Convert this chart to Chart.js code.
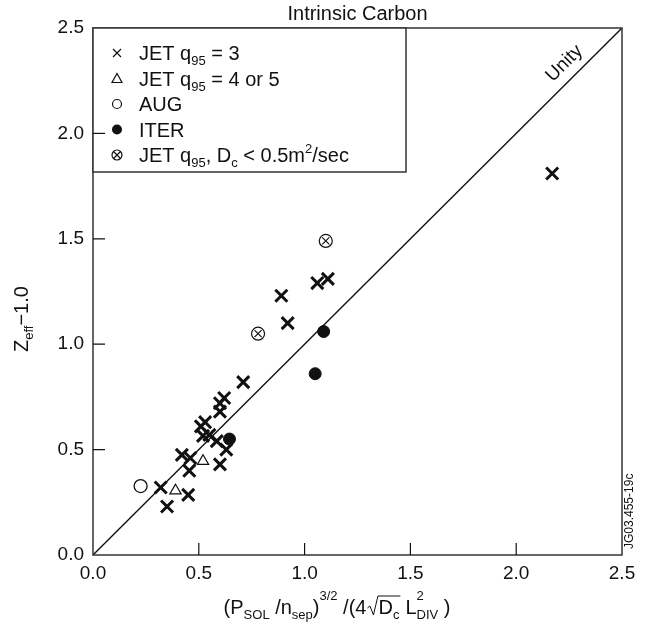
<!DOCTYPE html>
<html>
<head>
<meta charset="utf-8">
<script src="https://cdn.jsdelivr.net/npm/chart.js@4.4.0/dist/chart.umd.min.js"></script>
<style>
  html, body { margin: 0; padding: 0; background: #fff; }
  #wrap { width: 649px; height: 625px; }
</style>
</head>
<body>
<div id="wrap"><canvas id="chart" width="649" height="625"></canvas></div>
<script>
// values, [x, y]
const jetQ3 = [
  [2.17, 1.81], [0.89, 1.23], [0.92, 1.10], [1.06, 1.29], [1.11, 1.31],
  [0.71, 0.82], [0.62, 0.745], [0.60, 0.72], [0.60, 0.68], [0.51, 0.61],
  [0.53, 0.63], [0.52, 0.565], [0.55, 0.57], [0.585, 0.54], [0.63, 0.50],
  [0.60, 0.43], [0.42, 0.475], [0.46, 0.46], [0.455, 0.40], [0.32, 0.32],
  [0.45, 0.285], [0.35, 0.23]
];
const jetQ45 = [[0.52, 0.445], [0.39, 0.305]];
const aug = [[0.225, 0.327]];
const iter = [[1.09, 1.06], [1.05, 0.86], [0.645, 0.55]];
const jetLowDc = [[1.10, 1.49], [0.78, 1.05]];
const unity = [[0, 0], [2.5, 2.5]];
const axisTicks = [0.0, 0.5, 1.0, 1.5, 2.0, 2.5];

const FONT = '"Liberation Sans", Arial, Helvetica, sans-serif';
const INK = "#111";

const pts = arr => arr.map(p => ({ x: p[0], y: p[1] }));

function put(ctx, st, t, size, dy) {
  ctx.font = size + "px " + FONT;
  if (st.draw) ctx.fillText(t, st.x, st.y + dy);
  st.x += ctx.measureText(t).width;
}

function drawXTitle(ctx, draw, x0, y) {
  const st = { x: x0, y: y, draw: draw };
  put(ctx, st, "(P", 20, 0);
  put(ctx, st, "SOL", 13, 5);
  put(ctx, st, " /n", 20, 0);
  put(ctx, st, "sep", 13, 5);
  put(ctx, st, ")", 20, 0);
  put(ctx, st, "3/2", 13, -14);
  put(ctx, st, " /(4", 20, 0);
  const sx = st.x + 1;
  st.x += 12;
  put(ctx, st, "D", 20, 0);
  put(ctx, st, "c", 13, 5);
  if (draw) {
    ctx.beginPath();
    ctx.moveTo(sx, y - 6);
    ctx.lineTo(sx + 2.5, y - 8);
    ctx.lineTo(sx + 6, y + 1);
    ctx.lineTo(sx + 10.5, y - 18);
    ctx.lineTo(st.x + 1, y - 18);
    ctx.lineWidth = 1;
    ctx.stroke();
  }
  st.x += 6;
  put(ctx, st, "L", 20, 0);
  const lx = st.x;
  put(ctx, st, "2", 13, -14);
  st.x = lx;
  put(ctx, st, "DIV", 13, 5);
  put(ctx, st, " )", 20, 0);
  return st.x - x0;
}

const legendRows = [
  { mark: "x", parts: [["JET q", 20, 0], ["95", 13, 5], [" = 3", 20, 0]] },
  { mark: "tri", parts: [["JET q", 20, 0], ["95", 13, 5], [" = 4 or 5", 20, 0]] },
  { mark: "circ", parts: [["AUG", 20, 0]] },
  { mark: "dot", parts: [["ITER", 20, 0]] },
  { mark: "ox", parts: [["JET q", 20, 0], ["95", 13, 5], [", D", 20, 0], ["c", 13, 5],
                        [" < 0.5m", 20, 0], ["2", 13, -9], ["/sec", 20, 0]] }
];

function legendMark(ctx, kind, x, y) {
  ctx.lineWidth = 1.2;
  ctx.beginPath();
  if (kind === "x") {
    ctx.moveTo(x - 4, y - 4); ctx.lineTo(x + 4, y + 4);
    ctx.moveTo(x + 4, y - 4); ctx.lineTo(x - 4, y + 4);
    ctx.stroke();
  } else if (kind === "tri") {
    ctx.moveTo(x, y - 5); ctx.lineTo(x + 5, y + 4); ctx.lineTo(x - 5, y + 4); ctx.closePath();
    ctx.stroke();
  } else if (kind === "circ") {
    ctx.arc(x, y, 4.5, 0, Math.PI * 2); ctx.stroke();
  } else if (kind === "dot") {
    ctx.arc(x, y, 5, 0, Math.PI * 2); ctx.fill();
  } else {
    ctx.arc(x, y, 5, 0, Math.PI * 2);
    ctx.moveTo(x - 3, y - 3); ctx.lineTo(x + 3, y + 3);
    ctx.moveTo(x + 3, y - 3); ctx.lineTo(x - 3, y + 3);
    ctx.stroke();
  }
}

const decorations = {
  id: "decorations",
  afterDraw(chart) {
    const ctx = chart.ctx;
    const a = chart.chartArea;
    const xs = chart.scales.x, ys = chart.scales.y;
    ctx.save();
    ctx.fillStyle = INK;
    ctx.strokeStyle = INK;

    // frame
    ctx.lineWidth = 1.5;
    ctx.strokeStyle = "#333";
    ctx.strokeRect(a.left, a.top, a.right - a.left, a.bottom - a.top);
    ctx.strokeStyle = INK;

    // inward ticks
    ctx.lineWidth = 1.2;
    ctx.beginPath();
    axisTicks.slice(1, -1).forEach(v => {
      const px = xs.getPixelForValue(v);
      ctx.moveTo(px, a.bottom); ctx.lineTo(px, a.bottom - 12);
      const py = ys.getPixelForValue(v);
      ctx.moveTo(a.left, py); ctx.lineTo(a.left + 12, py);
    });
    ctx.stroke();

    // legend box
    ctx.fillStyle = "#fff";
    ctx.fillRect(a.left, a.top, 313, 144);
    ctx.fillStyle = INK;
    ctx.lineWidth = 1.5;
    ctx.strokeStyle = "#333";
    ctx.strokeRect(a.left, a.top, 313, 144);
    ctx.strokeStyle = INK;
    ctx.lineWidth = 1.2;
    ctx.beginPath();
    ctx.moveTo(a.left, ys.getPixelForValue(2.0)); ctx.lineTo(a.left + 12, ys.getPixelForValue(2.0));
    ctx.stroke();
    ctx.textAlign = "left";
    ctx.textBaseline = "alphabetic";
    legendRows.forEach((row, i) => {
      const cy = a.top + 25 + i * 25.5;
      legendMark(ctx, row.mark, 117, cy);
      const st = { x: 139, y: cy + 7, draw: true };
      row.parts.forEach(p => put(ctx, st, p[0], p[1], p[2]));
    });

    // title
    ctx.textAlign = "center";
    ctx.font = "20px " + FONT;
    ctx.fillText("Intrinsic Carbon", (a.left + a.right) / 2, a.top - 8);

    // x title
    ctx.textAlign = "left";
    const w = drawXTitle(ctx, false, 0, 0);
    drawXTitle(ctx, true, 337 - w / 2, 614);

    // y title
    ctx.save();
    ctx.translate(28, 352);
    ctx.rotate(-Math.PI / 2);
    const st = { x: 0, y: 0, draw: true };
    put(ctx, st, "Z", 20, 0);
    put(ctx, st, "eff", 13, 5);
    put(ctx, st, "\u22121.0", 20, 0);
    ctx.restore();

    // unity label
    const ux = xs.getPixelForValue(2.28), uy = ys.getPixelForValue(2.28);
    ctx.save();
    ctx.translate(ux - 11, uy - 11);
    ctx.rotate(-Math.PI / 4);
    ctx.textAlign = "center";
    ctx.textBaseline = "middle";
    ctx.font = "19px " + FONT;
    ctx.fillText("Unity", 0, 0);
    ctx.restore();

    // figure id
    ctx.save();
    ctx.translate(633, 549);
    ctx.rotate(-Math.PI / 2);
    ctx.textAlign = "left";
    ctx.font = "12px " + FONT;
    ctx.fillText("JG03.455-19c", 0, 0);
    ctx.restore();

    ctx.restore();
  }
};

new Chart(document.getElementById("chart"), {
  type: "scatter",
  data: {
    datasets: [
      { label: "Unity", type: "line", data: pts(unity), borderColor: INK, borderWidth: 1.4,
        pointRadius: 0, fill: false, tension: 0 },
      { label: "JET q95 = 3", data: pts(jetQ3), pointStyle: "crossRot", pointRadius: 8.5,
        borderColor: INK, pointBorderWidth: 3 },
      { label: "JET q95 = 4 or 5", data: pts(jetQ45), pointStyle: "triangle", pointRadius: 6.5,
        borderColor: INK, backgroundColor: "#fff", pointBorderWidth: 1.2 },
      { label: "AUG", data: pts(aug), pointStyle: "circle", pointRadius: 6.5,
        borderColor: INK, backgroundColor: "#fff", pointBorderWidth: 1.3 },
      { label: "ITER", data: pts(iter), pointStyle: "circle", pointRadius: 6,
        borderColor: INK, backgroundColor: INK, pointBorderWidth: 1 },
      { label: "JET q95 = 3, Dc < 0.5", data: pts(jetLowDc), pointStyle: "crossRot", pointRadius: 5,
        borderColor: INK, pointBorderWidth: 1.2 },
      { label: "JET q95 = 3, Dc < 0.5 ring", data: pts(jetLowDc), pointStyle: "circle", pointRadius: 6.5,
        borderColor: INK, backgroundColor: "rgba(255,255,255,0)", pointBorderWidth: 1.2 }
    ]
  },
  options: {
    responsive: false,
    animation: false,
    devicePixelRatio: 1,
    layout: { padding: { left: 0, right: 27, top: 28, bottom: 0 } },
    plugins: { legend: { display: false }, tooltip: { enabled: false }, title: { display: false } },
    scales: {
      x: {
        type: "linear", min: 0, max: 2.5,
        afterBuildTicks: s => { s.ticks = axisTicks.map(v => ({ value: v })); },
        afterFit: s => { s.height = 70; },
        grid: { display: false, drawTicks: false },
        border: { display: false },
        ticks: { color: INK, padding: 7, font: { size: 19, family: FONT }, maxRotation: 0,
                 callback: v => v.toFixed(1) }
      },
      y: {
        type: "linear", min: 0, max: 2.5,
        afterBuildTicks: s => { s.ticks = axisTicks.map(v => ({ value: v })); },
        afterFit: s => { s.width = 93; },
        grid: { display: false, drawTicks: false },
        border: { display: false },
        ticks: { color: INK, padding: 9, font: { size: 19, family: FONT },
                 callback: v => v.toFixed(1) }
      }
    }
  },
  plugins: [decorations]
});
</script>
</body>
</html>
